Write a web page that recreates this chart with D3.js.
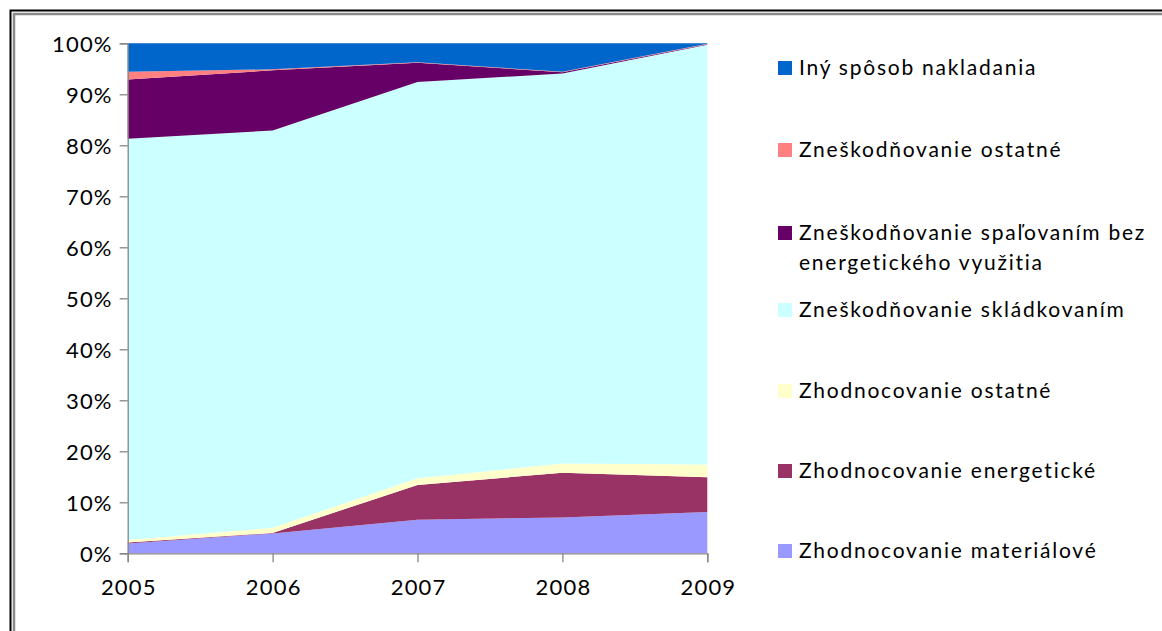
<!DOCTYPE html>
<html>
<head>
<meta charset="utf-8">
<script src="https://cdn.jsdelivr.net/npm/d3@7"></script>
<style>
  html, body { margin: 0; padding: 0; background: #fff; }
  svg { display: block; font-family: Lato, "Open Sans", sans-serif; }
</style>
</head>
<body>
<svg id="chart" width="1162" height="631"></svg>
<script>
const years = [2005, 2006, 2007, 2008, 2009];
const materialove = [1.9, 3.9, 6.6, 7.0, 8.1];
const energeticke = [0.2, 0.1, 6.8, 8.8, 6.8];
const zhodOstatne = [0.5, 1.0, 1.3, 1.8, 2.5];
const skladkovanim = [78.7, 77.9, 77.7, 76.5, 82.3];
const spalovanim = [11.6, 11.8, 3.8, 0.2, 0.1];
const znesOstatne = [1.5, 0.2, 0.1, 0.1, 0.1];
const iny = [5.6, 5.1, 3.7, 5.6, 0.1];

const seriesNames = [
  "Zhodnocovanie materiálové",
  "Zhodnocovanie energetické",
  "Zhodnocovanie ostatné",
  "Zneškodňovanie skládkovaním",
  "Zneškodňovanie spaľovaním bez energetického využitia",
  "Zneškodňovanie ostatné",
  "Iný spôsob nakladania"
];
const seriesValues = [materialove, energeticke, zhodOstatne, skladkovanim, spalovanim, znesOstatne, iny];
const colors = ["#9999FF", "#993366", "#FFFFCC", "#CCFFFF", "#660066", "#FF8080", "#0066CC"];
const legendLines = [
  ["Iný spôsob nakladania"],
  ["Zneškodňovanie ostatné"],
  ["Zneškodňovanie spaľovaním bez", "energetického využitia"],
  ["Zneškodňovanie skládkovaním"],
  ["Zhodnocovanie ostatné"],
  ["Zhodnocovanie energetické"],
  ["Zhodnocovanie materiálové"]
];
const yTicks = [0, 0.1, 0.2, 0.3, 0.4, 0.5, 0.6, 0.7, 0.8, 0.9, 1.0];

(function () {
const svg = d3.select("#chart");

// outer frame (double border)
svg.append("rect").attr("x", 10.5).attr("y", 10.5).attr("width", 1200).attr("height", 700)
  .attr("fill", "none").attr("stroke", "#000").attr("stroke-width", 2);
svg.append("rect").attr("x", 14).attr("y", 14).attr("width", 1200).attr("height", 700)
  .attr("fill", "#fff").attr("stroke", "#8a8a8a").attr("stroke-width", 2.5);

const pLeft = 127.7, pRight = 707.3, pTop = 43.3, pBottom = 553.3;

const table = years.map((yr, i) => {
  const row = { year: yr };
  seriesNames.forEach((n, k) => row[n] = seriesValues[k][i]);
  return row;
});

const x = d3.scalePoint().domain(years).range([pLeft, pRight]);
const y = d3.scaleLinear().domain([0, 1]).range([pBottom, pTop]);

const stack = d3.stack().keys(seriesNames).offset(d3.stackOffsetExpand);
const stacked = stack(table);

const area = d3.area()
  .x(d => x(d.data.year))
  .y0(d => y(d[0]))
  .y1(d => y(d[1]));

svg.append("g").selectAll("path").data(stacked).join("path")
  .attr("d", area)
  .attr("fill", (d, i) => colors[i]);

// axes
const yAxis = d3.axisLeft(y).tickValues(yTicks).tickFormat(d3.format(".0%")).tickSize(8).tickPadding(16);
const gy = svg.append("g").attr("transform", `translate(${pLeft},0)`).call(yAxis);
const xAxis = d3.axisBottom(x).tickSize(9).tickPadding(22);
const gx = svg.append("g").attr("transform", `translate(0,${pBottom})`).call(xAxis);
[gx, gy].forEach(g => {
  g.selectAll(".domain").attr("stroke", "#868686").attr("stroke-width", 1.3);
  g.selectAll(".tick line").attr("stroke", "#868686").attr("stroke-width", 1.3);
  g.selectAll("text").attr("fill", "#000").attr("font-size", 22)
    .attr("font-family", "Lato, sans-serif").attr("letter-spacing", "1.2px");
});
gy.selectAll(".tick text").attr("dy", "0.36em").attr("x", -15);
gx.selectAll(".tick text").attr("dy", "0.5em").attr("dx", "0.6");

// legend
const baselines = [75, 157, 240, 317, 398, 478, 558];
const lg = svg.append("g");
legendLines.forEach((lines, i) => {
  const b = baselines[i];
  lg.append("rect").attr("x", 778).attr("y", b - 14).attr("width", 14).attr("height", 14)
    .attr("fill", colors[colors.length - 1 - i]);
  const t = lg.append("text").attr("x", 799).attr("y", b)
    .attr("font-size", 21).attr("fill", "#000").attr("letter-spacing", "1.75px");
  lines.forEach((ln, j) => {
    t.append("tspan").attr("x", 799).attr("y", b + j * 30).text(ln);
  });
});
})();
</script>
</body>
</html>
